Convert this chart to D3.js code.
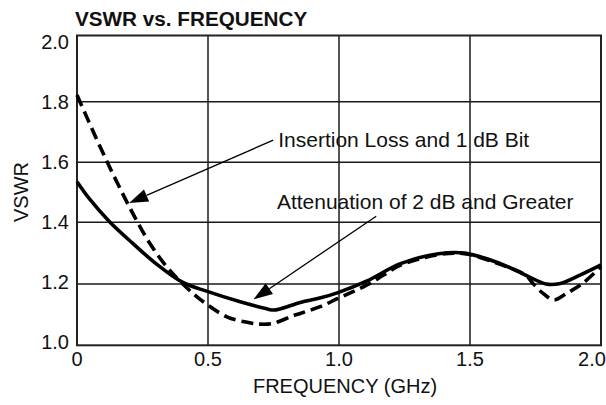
<!DOCTYPE html>
<html>
<head>
<meta charset="utf-8">
<script src="https://cdn.jsdelivr.net/npm/d3@7/dist/d3.min.js"></script>
<style>
  html, body { margin: 0; padding: 0; background: #fff; }
  svg { display: block; }
  text { font-family: "Liberation Sans", Arial, Helvetica, sans-serif; fill: #111; }
</style>
</head>
<body>
<svg id="chart" width="606" height="405"></svg>
<script>
// ---- data ----
const xTicks = [0, 0.5, 1.0, 1.5, 2.0];
const xTickLabels = ["0", "0.5", "1.0", "1.5", "2.0"];
const yTicks = [1.0, 1.2, 1.4, 1.6, 1.8, 2.0];
const yTickLabels = ["1.0", "1.2", "1.4", "1.6", "1.8", "2.0"];

// Attenuation of 2 dB and Greater (solid)
const attenFreq = [0, 0.05, 0.126, 0.215, 0.3, 0.404, 0.5, 0.623, 0.72, 0.75, 0.78, 0.852, 0.93, 0.996, 1.107, 1.235, 1.38, 1.48, 1.61, 1.712, 1.79, 1.845, 1.92, 2.0];
const attenVswr = [1.535, 1.475, 1.4, 1.33, 1.267, 1.205, 1.175, 1.142, 1.12, 1.115, 1.12, 1.14, 1.155, 1.172, 1.21, 1.266, 1.298, 1.3, 1.268, 1.229, 1.2, 1.202, 1.229, 1.262];

// Insertion Loss and 1 dB Bit (dashed)
const ilFreq = [0, 0.042, 0.113, 0.19, 0.228, 0.279, 0.343, 0.404, 0.47, 0.572, 0.65, 0.70, 0.75, 0.82, 0.852, 0.928, 0.996, 1.107, 1.17, 1.235, 1.38, 1.48, 1.61, 1.712, 1.74, 1.778, 1.82, 1.87, 1.93, 2.0];
const ilVswr = [1.82, 1.74, 1.605, 1.468, 1.405, 1.33, 1.255, 1.2, 1.15, 1.093, 1.075, 1.069, 1.072, 1.095, 1.104, 1.126, 1.153, 1.197, 1.229, 1.261, 1.295, 1.298, 1.265, 1.229, 1.202, 1.17, 1.148, 1.17, 1.202, 1.256];

const annotations = [
  { text: "Insertion Loss and 1 dB Bit", tx: 0.768, ty: 1.652, from: [0.749, 1.673], to: [0.199, 1.464] },
  { text: "Attenuation of 2 dB and Greater", tx: 0.763, ty: 1.444, from: [1.142, 1.42], to: [0.674, 1.15] }
];

// ---- layout ----
const svg = d3.select("#chart");
const x = d3.scaleLinear().domain([0, 2]).range([77, 601]);
const y = d3.scaleLinear().domain(yTicks).range([345.3, 284, 222.2, 162.3, 101.7, 35.5]);
const yLabel = d3.scaleLinear().domain([1, 2]).range([341.5, 41.7]);

// grid
const g = svg.append("g");
g.selectAll(".vg").data(xTicks.slice(1, -1)).enter().append("line")
  .attr("x1", d => x(d)).attr("x2", d => x(d))
  .attr("y1", y(2)).attr("y2", y(1))
  .attr("stroke", "#1a1a1a").attr("stroke-width", 1.5);
g.selectAll(".hg").data(yTicks.slice(1, -1)).enter().append("line")
  .attr("x1", x(0)).attr("x2", x(2))
  .attr("y1", d => y(d)).attr("y2", d => y(d))
  .attr("stroke", "#1a1a1a").attr("stroke-width", 1.5);
g.append("rect")
  .attr("x", x(0)).attr("y", y(2))
  .attr("width", x(2) - x(0)).attr("height", y(1) - y(2))
  .attr("fill", "none").attr("stroke", "#222").attr("stroke-width", 2);

// tick labels
svg.selectAll(".yl").data(yTicks).enter().append("text")
  .attr("x", 69).attr("y", d => yLabel(d))
  .attr("dy", "0.36em").attr("text-anchor", "end")
  .attr("font-size", 20)
  .text((d, i) => yTickLabels[i]);
svg.selectAll(".xl").data(xTicks).enter().append("text")
  .attr("x", d => Math.min(x(d), 592)).attr("y", 366)
  .attr("text-anchor", "middle")
  .attr("font-size", 20)
  .text((d, i) => xTickLabels[i]);

// axis titles
svg.append("text").attr("x", 345).attr("y", 393)
  .attr("text-anchor", "middle").attr("font-size", 20)
  .text("FREQUENCY (GHz)");
svg.append("text")
  .attr("transform", "translate(28,192) rotate(-90)")
  .attr("text-anchor", "middle").attr("font-size", 20)
  .text("VSWR");
svg.append("text").attr("x", 75).attr("y", 26)
  .attr("font-size", 20.7).attr("font-weight", "bold")
  .text("VSWR vs. FREQUENCY");

// curves
const line = d3.line().x(d => x(d[0])).y(d => y(d[1])).curve(d3.curveCatmullRom.alpha(0.5));
svg.append("path")
  .datum(attenFreq.map((f, i) => [f, attenVswr[i]]))
  .attr("d", line).attr("fill", "none")
  .attr("stroke", "#000").attr("stroke-width", 3.6)
  .attr("stroke-linejoin", "round");
svg.append("path")
  .datum(ilFreq.map((f, i) => [f, ilVswr[i]]))
  .attr("d", line).attr("fill", "none")
  .attr("stroke", "#000").attr("stroke-width", 3.6)
  .attr("stroke-dasharray", "12,6");

// annotations
annotations.forEach(a => {
  svg.append("text").attr("x", x(a.tx)).attr("y", y(a.ty))
    .attr("font-size", 21).text(a.text);
  const x1 = x(a.from[0]), y1 = y(a.from[1]);
  const x2 = x(a.to[0]), y2 = y(a.to[1]);
  const ang = Math.atan2(y2 - y1, x2 - x1);
  const L = 19, W = 6.5;
  const bx = x2 - L * Math.cos(ang), by = y2 - L * Math.sin(ang);
  svg.append("line").attr("x1", x1).attr("y1", y1).attr("x2", bx).attr("y2", by)
    .attr("stroke", "#000").attr("stroke-width", 1.3);
  const p = [
    [x2, y2],
    [bx + W * Math.sin(ang), by - W * Math.cos(ang)],
    [bx - W * Math.sin(ang), by + W * Math.cos(ang)]
  ];
  svg.append("path").attr("d", "M" + p.map(q => q.join(",")).join("L") + "Z")
    .attr("fill", "#000");
});
</script>
</body>
</html>
